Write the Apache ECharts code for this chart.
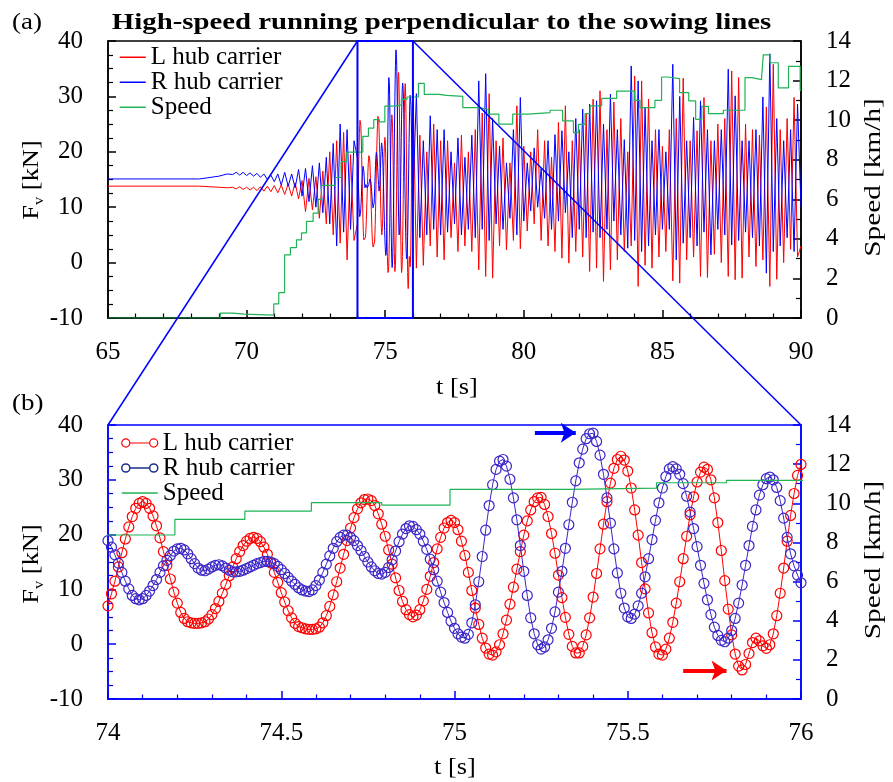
<!DOCTYPE html>
<html><head><meta charset="utf-8">
<script src="https://cdn.jsdelivr.net/npm/echarts@6/dist/echarts.min.js"></script>
<style>html,body{margin:0;padding:0;background:#fff}#c{width:893px;height:782px}</style>
</head><body><div id="c"></div>
<script>
// ---------------- DATA ----------------
// quiet phase before start (t [s], F [kN])
const headT = [65, 68.3, 69.0, 69.3];
const headL = [13.8, 13.8, 13.6, 13.5];
const headR = [15.1, 15.1, 15.6, 16.0];
// ramp-up phase, sampled every 0.125 s from 69.5 s
const rampStart = 69.5, rampStep = 0.125;
const rampL = [13.6,13.3,13.7,13.2,13.6,13.1,13.6,13.0,13.7,12.9, 13.8,12.8,13.9,12.6,14.0,12.3,14.2,12.0,14.4,11.5, 14.8,9.2,15.2,9.5,15.5,8.0,16.5,7.0,20.0,5.0, 22.0,3.5,23.5,0.5,19.5,4.0];
const rampR = [15.9,16.3,15.8,16.3,15.7,16.2,15.6,16.1,15.4,16.0, 15.0,15.8,14.6,16.0,14.0,16.3,13.8,16.0,13.5,16.8, 12.0,17.0,11.0,17.5,10.0,18.0,9.0,19.0,7.0,21.5, 3.0,25.0,5.5,24.0,6.0,22.0];
// detailed window 74-76 s, sampled every 0.01 s
const detailStart = 74, detailStep = 0.01;
const detailL = [
 7.0,9.2,11.5,14.1,16.7,19.2,21.4,23.3,24.8,25.7,
 26.0,25.7,24.8,23.4,21.6,19.4,16.9,14.4,11.9,9.5,
 7.5,5.8,4.7,4.1,3.9,3.8,3.8,3.9,4.1,4.6,
 5.4,6.5,7.8,9.3,10.9,12.5,14.1,15.6,16.9,18.0,
 18.8,19.3,19.5,19.3,18.7,17.7,16.4,14.8,13.1,11.3,
 9.4,7.7,6.1,4.8,3.8,3.2,3.0,2.8,2.7,2.7,
 2.8,3.1,3.9,5.2,6.9,9.0,11.4,13.9,16.4,18.9,
 21.2,23.1,24.7,25.8,26.4,26.5,26.2,25.3,23.8,21.9,
 19.7,17.2,14.6,12.1,9.8,7.8,6.3,5.4,5.0,5.3,
 6.3,7.9,10.0,12.4,14.9,17.4,19.5,21.2,22.2,22.6,
 22.2,20.9,18.8,16.2,13.1,9.8,6.6,3.6,1.1,-0.7,
 -1.8,-2.0,-1.4,-0.1,1.9,4.4,7.3,10.4,13.7,16.9,
 19.9,22.5,24.5,26.0,26.7,26.8,25.5,23.3,20.2,16.6,
 12.6,8.5,4.9,1.8,-0.4,-1.6,-1.6,-0.4,1.7,4.8,
 8.6,12.9,17.4,21.9,26.0,29.4,32.1,33.7,34.3,33.6,
 31.6,28.5,24.5,19.9,14.9,10.1,5.7,2.1,-0.5,-1.8,
 -2.0,-0.9,1.1,4.0,7.5,11.4,15.6,19.7,23.6,26.9,
 29.6,31.4,32.3,31.9,30.0,26.7,22.2,17.1,11.6,6.4,
 1.7,-1.8,-4.0,-4.7,-3.7,-1.7,0.3,1.1,0.6,-0.3,
 -0.75,-0.1,1.9,5.2,9.3,13.9,18.8,23.5,27.5,30.8,
 32.8];
const detailR = [
 18.9,17.7,16.3,14.8,13.1,11.5,10.1,8.9,8.3,8.1,
 8.3,8.9,9.7,10.7,11.8,13.1,14.3,15.3,16.2,17.0,
 17.4,17.5,17.2,16.5,15.6,14.7,13.9,13.5,13.4,13.7,
 14.1,14.4,14.5,14.3,13.9,13.5,13.2,13.2,13.3,13.5,
 13.8,14.1,14.4,14.7,14.9,15.1,15.1,15.0,14.7,14.2,
 13.6,12.9,12.2,11.5,10.9,10.3,9.9,9.7,9.6,9.9,
 10.7,11.7,13.1,14.6,16.1,17.5,18.7,19.5,19.9,19.9,
 19.5,18.9,18.0,17.1,16.0,15.0,14.1,13.4,12.9,12.8,
 13.1,14.0,15.4,17.0,18.7,20.1,21.1,21.6,21.5,20.9,
 20.1,18.8,17.3,15.5,13.6,11.5,9.5,7.6,5.8,4.2,
 2.9,1.9,1.3,1.1,1.8,3.9,7.2,11.4,16.0,20.8,
 25.3,29.1,31.9,33.4,33.7,32.5,30.1,26.7,22.7,18.0,
 13.3,8.9,4.8,1.9,-0.1,-0.9,-0.5,0.8,2.9,5.9,
 9.5,13.3,17.5,21.8,25.9,29.8,33.1,35.6,37.5,38.4,
 38.5,37.0,34.5,31.0,26.7,22.1,17.4,13.0,9.3,6.6,
 5.0,4.7,5.5,7.0,9.3,12.3,15.6,19.1,22.6,25.8,
 28.5,30.6,32.0,32.4,32.0,31.0,29.3,27.0,24.1,21.1,
 17.8,14.4,11.1,8.1,5.4,3.1,1.6,0.7,0.45,1.1,
 2.5,4.7,7.5,10.8,14.4,18.0,21.5,24.5,27.2,29.1,
 30.2,30.5,30.0,28.6,26.2,23.0,19.5,16.5,14.3,12.6,
 11.2];
// high-speed phase after the window, sampled every 0.125 s from 76.125 s
const tailStart = 76.125, tailStep = 0.125;
const tailL = [
 -1,23,-0.5,20,3,25,1,22,
 0.5,22,4.5,18,2,23,3,20,
 2,24,-1.3,27,-2.5,30.5,-2.8,22,
 3,22.5,2.3,18,4,28.3,2.5,21,
 5.7,20,7,24,4,22,3,19,
 2,25.3,0.8,28.3,-0.1,22,2,24,
 1,27,-1.6,29.5,-1.0,31,-3.4,24,
 -1.3,29,0.5,26,2,20,3,33.7,
 -4.3,32.8,-0.5,29.5,-1.0,24,1,21,
 2,24,-3.3,26,-3.7,33.3,0.5,22,
 1,23.8,-2.5,29.8,-2.7,22,1.5,25,
 0,26,-2.5,34.6,-3.1,33.4,-2.8,25,
 1,24,-0.7,23,0.5,28.1,-4.3,35.8,
 -3,24,0,26,2.4,29.8,1,3];
const tailR = [
 30.5,4.5,22,5,26.5,6,24,5,
 24,5.5,20,7,22.5,5,19,6,
 23,4.5,32.8,6,34.1,4,26,7,
 21,6,18,8,24,5,29.8,7.5,
 18,9.3,20.7,10,17,8,22,6,
 23.1,7.5,23.8,9,20,4.5,26,6,
 27.7,4.5,28.6,5.5,29.2,4.5,25,6,
 30.4,7.5,24,5,22.2,2.6,35.5,4,
 32.8,2,28,3,22,5,24,6,
 20,6,35.8,0.5,30,3.5,22,4.5,
 26.2,3,29.2,5.5,24,1.4,22,6,
 24,5,34.9,3.2,30.1,4,22,5.5,
 22,4.5,24,3,29.9,-1.9,37.7,2,
 26,3,22,4.5,24,2,28.6,10];
// speed [km/h], value holds from the given time
const speedT = [65,68.9,69.05,69.5,69.9,70.98,71.16,71.37,71.58,71.8,71.98,72.16,72.4,72.58,72.7,73.2,73.41,73.61,74.193,74.395,74.587,74.79,74.987,75.33,75.583,75.785,76.2,76.41,76.94,77.22,77.8,78.36,78.72,79.1,79.6,80.16,80.95,81.4,81.79,81.97,82.21,82.39,82.81,83.35,83.99,84.19,84.73,84.97,85.21,85.62,85.95,86.2,86.42,86.66,87.2,87.98,88.22,88.58,88.64,88.88,89.18,89.55,89.97,90];
const speedV = [0,0,0.25,0.2,0.15,0.71,1.28,3.19,3.56,3.95,4.3,4.88,5.3,6.0,6.7,7.1,7.9,8.38,9.18,9.6,10.03,9.91,10.71,10.77,11.05,11.17,11.86,11.3,11.25,11.2,10.63,10.55,10.3,9.8,10.3,10.38,10.5,9.96,9.37,9.79,10.33,10.72,11.1,11.47,11.0,10.63,11.0,12.18,12.1,11.39,10.97,10.04,10.7,10.33,10.5,12.15,12.05,12.2,13.3,12.9,11.63,12.72,11.5,11.5];
// zoom window and arrow annotations (data units)
const zoomWindow = [74, 76];
const blueArrow = [[75.232, 38.6], [75.35, 38.6]];
const redArrow = [[75.66, -4.8], [75.785, -4.8]];
const names = ['L hub carrier', 'R hub carrier', 'Speed'];
const titleText = 'High-speed running perpendicular to the sowing lines';

// ---------------- BUILD ----------------
const zip = (t, v) => t.map((x, i) => [x, v[i]]);
const grid = (start, step, arr) => arr.map((_, i) => +(start + i * step).toFixed(4));
const rampT = grid(rampStart, rampStep, rampL);
const detailT = grid(detailStart, detailStep, detailL);
const tailT = grid(tailStart, tailStep, tailL);
const topL = [].concat(zip(headT, headL), zip(rampT, rampL), zip(detailT, detailL), zip(tailT, tailL));
const topR = [].concat(zip(headT, headR), zip(rampT, rampR), zip(detailT, detailR), zip(tailT, tailR));
const botL = zip(detailT, detailL);
const botR = zip(detailT, detailR);
const speed = zip(speedT, speedV);

const FONT = 'Liberation Serif';
const BLUE = '#0000ff';
const RED = '#ff0000';
const PURPLE = '#3a26c8';
const GREEN = '#1fb356';

function xAx(grid, min, max, interval, color) {
  return {type:'value', gridIndex:grid, min:min, max:max, interval:interval,
    axisLine:{onZero:false, lineStyle:{color:color, width:1.5}},
    axisTick:{inside:true, length:8, lineStyle:{color:color, width:1.5}},
    minorTick:{show:true, splitNumber:5, length:4.5, lineStyle:{color:color, width:1.2}},
    splitLine:{show:false}, minorSplitLine:{show:false},
    axisLabel:{color:'#000', fontFamily:FONT, fontSize:25, margin:22, showMinLabel:true, showMaxLabel:true}};
}
function yAx(grid, pos, min, max, interval, minorSplit, color) {
  return {type:'value', gridIndex:grid, position:pos, min:min, max:max, interval:interval,
    axisLine:{show:true, onZero:false, lineStyle:{color:color, width:1.5}},
    axisTick:{show:true, inside:true, length:8, lineStyle:{color:color, width:1.5}},
    minorTick:{show:true, splitNumber:minorSplit, length:5, lineStyle:{color:color, width:1.2}},
    splitLine:{show:false}, minorSplitLine:{show:false},
    axisLabel:{color:'#000', fontFamily:FONT, fontSize:25, margin:25, showMinLabel:true, showMaxLabel:true}};
}

const lineIcon = 'path://M0,0 M40,10 M0,5 L40,5';
const circIcon = 'path://M0,0 M40,10 M0,5 A4.5,4.5 0 1 1 9,5 A4.5,4.5 0 1 1 0,5 Z M9,5 L31,5 M31,5 A4.5,4.5 0 1 1 40,5 A4.5,4.5 0 1 1 31,5 Z';
const legTxt = {fontFamily:FONT, fontSize:25, color:'#000'};
function legItem(name, icon, color, w) {
  return {name:name, icon:icon, itemStyle:{color:'rgba(0,0,0,0)', borderColor:color, borderWidth:w}};
}

function txt(id, text, x, y, size, opts) {
  opts = opts || {};
  return {type:'text', id:id, x:x, y:y, z:50, silent:true,
    scaleX: opts.scaleX || 1.2, rotation: opts.rotation || 0,
    style:{text:text, fontFamily:FONT, fontSize:size, fontWeight: opts.bold ? 'bold' : 'normal', fill:'#000',
      align: opts.align || 'center', verticalAlign:'middle', textAlign: opts.align || 'center', textVerticalAlign:'middle',
      rich: opts.rich}};
}
const fvRich = {a:{fontFamily:FONT, fontSize:24, lineHeight:30, verticalAlign:'middle'},
                b:{fontFamily:FONT, fontSize:15, lineHeight:15, verticalAlign:'bottom'}};

const option = {
  animation:false,
  backgroundColor:'#fff',
  grid:[
    {left:108, top:41, width:693, height:277, show:true, borderColor:'#000', borderWidth:1.5, backgroundColor:'rgba(0,0,0,0)'},
    {left:108, top:425, width:693, height:274, show:true, borderColor:BLUE, borderWidth:1.5, backgroundColor:'rgba(0,0,0,0)'}
  ],
  xAxis:[ xAx(0, 65, 90, 5, '#000'), xAx(1, 74, 76, 0.5, BLUE) ],
  yAxis:[
    yAx(0, 'left', -10, 40, 10, 4, '#000'),
    yAx(0, 'right', 0, 14, 2, 2, '#000'),
    yAx(1, 'left', -10, 40, 10, 4, BLUE),
    yAx(1, 'right', 0, 14, 2, 2, BLUE)
  ],
  legend:[
    {left:119, top:44.75, padding:0, orient:'vertical', itemWidth:26, itemHeight:10, itemGap:0, selectedMode:false,
     textStyle:Object.assign({lineHeight:24.5}, legTxt),
     data:[legItem(names[0], lineIcon, RED, 1.5), legItem(names[1], lineIcon, BLUE, 1.5), legItem(names[2], lineIcon, GREEN, 1.5)]},
    {left:121, top:430.5, padding:0, orient:'vertical', itemWidth:36, itemHeight:9, itemGap:0, selectedMode:false,
     textStyle:Object.assign({lineHeight:25}, legTxt),
     data:[legItem(names[0], circIcon, RED, 1.2), legItem(names[1], circIcon, '#1c2f8a', 1.5), legItem(names[2], lineIcon, GREEN, 1.5)]}
  ],
  series:[
    {name:names[0], type:'line', xAxisIndex:0, yAxisIndex:0, data:topL, symbol:'none', color:RED, lineStyle:{color:RED, width:1}, z:3},
    {name:names[1], type:'line', xAxisIndex:0, yAxisIndex:0, data:topR, symbol:'none', color:BLUE, lineStyle:{color:BLUE, width:1}, z:4},
    {name:names[2], type:'line', xAxisIndex:0, yAxisIndex:1, data:speed, step:'end', symbol:'none', color:GREEN, lineStyle:{color:GREEN, width:1.2}, z:5},
    {name:names[0], type:'line', xAxisIndex:1, yAxisIndex:2, data:botL, symbol:'circle', symbolSize:10, showAllSymbol:true,
     color:RED, lineStyle:{color:RED, width:1}, itemStyle:{color:'rgba(0,0,0,0)', borderColor:RED, borderWidth:1.2}, z:3},
    {name:names[1], type:'line', xAxisIndex:1, yAxisIndex:2, data:botR, symbol:'circle', symbolSize:10, showAllSymbol:true,
     color:PURPLE, lineStyle:{color:PURPLE, width:1}, itemStyle:{color:'rgba(0,0,0,0)', borderColor:PURPLE, borderWidth:1.2}, z:4,
     markLine:{silent:true, symbol:['none','arrow'], symbolSize:15, label:{show:false}, animation:false,
       data:[
         [{coord:blueArrow[0], lineStyle:{color:BLUE, width:4, type:'solid'}, itemStyle:{color:BLUE}}, {coord:blueArrow[1]}],
         [{coord:redArrow[0], lineStyle:{color:RED, width:4, type:'solid'}, itemStyle:{color:RED}}, {coord:redArrow[1]}]
       ]}},
    {name:names[2], type:'line', xAxisIndex:1, yAxisIndex:3, data:speed, step:'end', symbol:'none', color:GREEN, lineStyle:{color:GREEN, width:1.2}, z:5}
  ],
  graphic:{elements:[
    txt('title', titleText, 441.5, 23, 24, {bold:true, scaleX:1.2}),
    txt('pa', '(a)', 12, 23, 22.5, {align:'left'}),
    txt('pb', '(b)', 12, 404, 22.5, {align:'left'}),
    txt('tx1', 't [s]', 457, 388, 24, {scaleX:1.1}),
    txt('tx2', 't [s]', 455, 768, 24, {scaleX:1.1}),
    txt('fv1', '{a|F}{b|v}{a| [kN]}', 32, 180, 24, {rotation:Math.PI/2, scaleX:1.1, rich:fvRich}),
    txt('fv2', '{a|F}{b|v}{a| [kN]}', 32, 564, 24, {rotation:Math.PI/2, scaleX:1.1, rich:fvRich}),
    txt('sp1', 'Speed [km/h]', 874, 177.5, 24, {rotation:Math.PI/2, scaleX:1.22}),
    txt('sp2', 'Speed [km/h]', 874, 560, 24, {rotation:Math.PI/2, scaleX:1.22})
  ]}
};

const chart = echarts.init(document.getElementById('c'), null, {renderer:'canvas'});
chart.setOption(option);

// zoom window box on panel (a) and connectors to panel (b)
const top0 = chart.convertToPixel({xAxisIndex:0, yAxisIndex:0}, [zoomWindow[0], 40]);
const top1 = chart.convertToPixel({xAxisIndex:0, yAxisIndex:0}, [zoomWindow[1], -10]);
const topR1 = chart.convertToPixel({xAxisIndex:0, yAxisIndex:0}, [zoomWindow[1], 40]);
const bot0 = chart.convertToPixel({xAxisIndex:1, yAxisIndex:2}, [zoomWindow[0], 40]);
const bot1 = chart.convertToPixel({xAxisIndex:1, yAxisIndex:2}, [zoomWindow[1], 40]);
chart.setOption({graphic:{elements:[
  {type:'rect', id:'zbox', z:100, silent:true, shape:{x:top0[0], y:top0[1], width:top1[0]-top0[0], height:top1[1]-top0[1]},
   style:{fill:'none', stroke:BLUE, lineWidth:2}},
  {type:'line', id:'c1', z:100, silent:true, shape:{x1:top0[0], y1:top0[1], x2:bot0[0], y2:bot0[1]}, style:{stroke:BLUE, lineWidth:1.5}},
  {type:'line', id:'c2', z:100, silent:true, shape:{x1:topR1[0], y1:topR1[1], x2:bot1[0], y2:bot1[1]}, style:{stroke:BLUE, lineWidth:1.5}}
]}});
</script></body></html>
